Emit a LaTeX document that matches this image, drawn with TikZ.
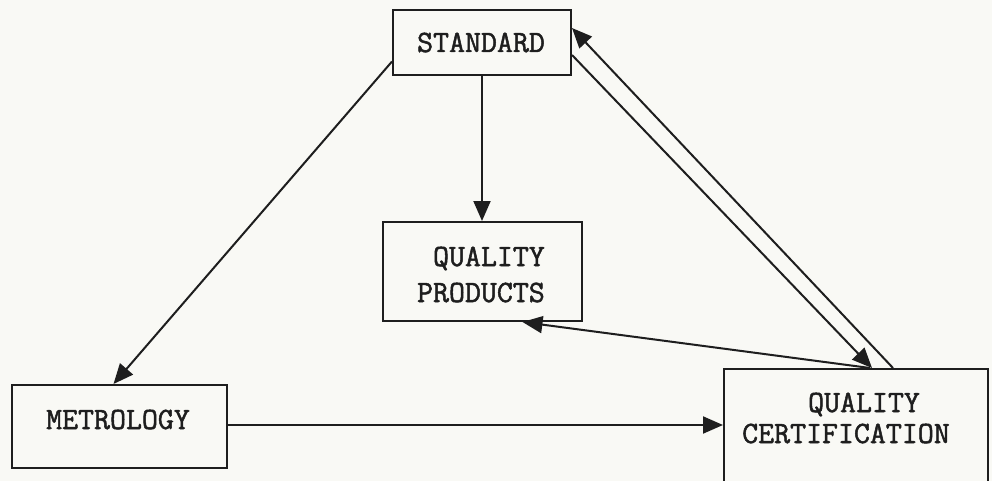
\documentclass[tikz,border=0pt]{standalone}
\usepackage{fontspec}
\newfontfamily\twfont{Latin Modern Mono}[FakeBold=1.6]
\usetikzlibrary{arrows.meta,calc}
\definecolor{paper}{RGB}{249,249,245}
\definecolor{ink}{RGB}{30,30,30}
\begin{document}
\begin{tikzpicture}[x=1pt,y=-1pt,
  box/.style={draw=ink,line width=2pt,rectangle,inner sep=0pt},
  lbl/.style={font=\fontsize{31}{34}\selectfont\twfont,text=ink,inner sep=0pt},
  conn/.style={draw=ink,line width=2pt},
  tip/.style={-{Triangle[length=20pt,width=17pt]}}]
\fill[paper] (0,0) rectangle (992,481);
\useasboundingbox (0,0) rectangle (992,481);
\begin{scope}
\clip (0,0) rectangle (992,481);
% boxes
\node[box,minimum width=178pt,minimum height=65pt] (std) at (482,43) {};
\node[box,minimum width=199pt,minimum height=99pt] (qp) at (482.5,271.5) {};
\node[box,minimum width=215pt,minimum height=83pt] (met) at (119.5,426.5) {};
\node[box,minimum width=264pt,minimum height=151pt] (qc) at (856,444.5) {};
% labels
\node[lbl,anchor=base] (stdt) at (481,52) {STANDARD};
\node[lbl,anchor=base] (mett) at (118,429) {METROLOGY};
\node[lbl,anchor=base east] (qpta) at (545,266) {QUALITY};
\node[lbl,anchor=base east] (qptb) at (545,302) {PRODUCTS};
\node[lbl,anchor=base] (qcta) at (864,412) {QUALITY};
\node[lbl,anchor=base] (qctb) at (846,443) {CERTIFICATION};
% connectors
\draw[conn,tip] ([yshift=15pt]std.south west) -- ([xshift=-6pt]met.north);
\draw[conn,tip] (std.south) -- (std.south |- qp.north);
\draw[conn,tip] ([yshift=-12pt]std.east) -- ([xshift=16pt]qc.north);
\draw[conn,tip] ([xshift=37pt]qc.north) -- ([yshift=15pt]std.east);
\draw[conn,tip] ([xshift=14pt]qc.north) -- ([xshift=40pt]qp.south);
\draw[conn,tip] ([yshift=1.5pt]met.east) -- ([yshift=1.5pt]met.east -| qc.west);
\end{scope}
\end{tikzpicture}
\end{document}
